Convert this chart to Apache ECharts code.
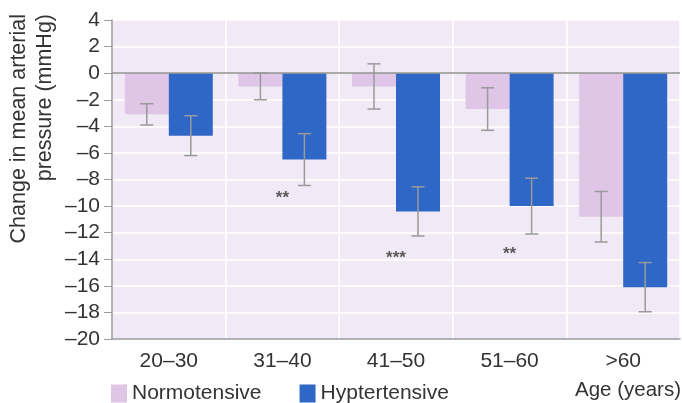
<!DOCTYPE html>
<html>
<head>
<meta charset="utf-8">
<script src="https://cdn.jsdelivr.net/npm/echarts@6/dist/echarts.min.js"></script>
<style>
  html, body { margin: 0; padding: 0; background: #ffffff; }
  #chart { width: 682px; height: 403px; }
</style>
</head>
<body>
<div id="chart"></div>
<script>
// Age groups and mean change in arterial pressure (mmHg) with error bars
const ageGroups = ['20–30', '31–40', '41–50', '51–60', '>60'];
const normotensive = [-3.1, -1.0, -1.0, -2.7, -10.8];
const normotensiveErr = [0.8, 1.0, 1.7, 1.6, 1.9];
const hypertensive = [-4.7, -6.5, -10.4, -10.0, -16.1];
const hypertensiveErr = [1.5, 1.95, 1.85, 2.1, 1.85];
// Significance markers: [group index, value where the stars sit, stars]
const significance = [[1, -9.4, '**'], [2, -13.9, '***'], [3, -13.6, '**']];

const FONT = '"Liberation Sans", Arial, Helvetica, sans-serif';
const TEXT = '#333333';
const BAR_W = 44;
const PINK = '#dfc5e6';
const BLUE = '#2f67c7';

const chart = echarts.init(document.getElementById('chart'), null, { renderer: 'canvas' });

// Error bar whiskers, shifted onto the matching bar of each pair
function errorBars(values, errs, side) {
  return {
    type: 'custom',
    z: 5,
    silent: true,
    data: values.map((v, i) => [i, v - errs[i], v + errs[i]]),
    renderItem: function (params, api) {
      const lo = api.coord([api.value(0), api.value(1)]);
      const hi = api.coord([api.value(0), api.value(2)]);
      const x = lo[0] + side * BAR_W / 2;
      const cap = 6.5;
      const style = { stroke: '#9a9a9a', lineWidth: 1.5 };
      return {
        type: 'group',
        children: [
          { type: 'line', shape: { x1: x, y1: lo[1], x2: x, y2: hi[1] }, style },
          { type: 'line', shape: { x1: x - cap, y1: lo[1], x2: x + cap, y2: lo[1] }, style },
          { type: 'line', shape: { x1: x - cap, y1: hi[1], x2: x + cap, y2: hi[1] }, style }
        ]
      };
    }
  };
}

const option = {
  animation: false,
  textStyle: { fontFamily: FONT },
  grid: {
    left: 112, right: 2, top: 20, bottom: 64,
    show: true, backgroundColor: '#f1eaf6', borderWidth: 0
  },
  legend: {
    data: ['Normotensive', 'Hyptertensive'],
    left: 106, top: 378,
    icon: 'rect', itemWidth: 16, itemHeight: 18, itemGap: 38,
    textStyle: { fontFamily: FONT, fontSize: 21, color: TEXT }
  },
  xAxis: {
    type: 'category',
    data: ageGroups,
    axisLine: { onZero: false, lineStyle: { color: '#9a9a9a', width: 1.5 } },
    axisTick: { show: false },
    axisLabel: { fontSize: 21, color: TEXT, margin: 12, fontFamily: FONT },
    splitLine: { show: true, lineStyle: { color: '#ffffff', width: 1.5 } }
  },
  yAxis: {
    type: 'value',
    min: -20, max: 4, interval: 2,
    axisLine: { show: true, lineStyle: { color: '#9a9a9a', width: 1.5 } },
    axisTick: { show: true, length: 8, lineStyle: { color: '#9a9a9a' } },
    axisLabel: {
      fontSize: 21, color: TEXT, margin: 12, fontFamily: FONT,
      formatter: v => String(v).replace('-', '–')
    },
    splitLine: { show: true, lineStyle: { color: '#ffffff', width: 1.5 } }
  },
  graphic: [
    {
      type: 'text', x: 32, y: 14, rotation: Math.PI / 2,
      style: {
        text: 'Change in mean arterial\npressure (mmHg)',
        align: 'right', verticalAlign: 'middle', lineHeight: 26,
        font: '21.5px ' + FONT, fill: TEXT
      }
    },
    {
      type: 'text', x: 681, y: 390,
      style: {
        text: 'Age (years)', align: 'right', verticalAlign: 'middle',
        font: '20.5px ' + FONT, fill: TEXT
      }
    }
  ],
  series: [
    {
      name: 'Normotensive', type: 'bar', data: normotensive,
      barWidth: BAR_W, barGap: '0%',
      itemStyle: { color: PINK },
      markLine: {
        silent: true, symbol: 'none', label: { show: false },
        lineStyle: { color: '#8f8f8f', width: 1.5, type: 'solid' },
        data: [{ yAxis: 0 }]
      }
    },
    {
      name: 'Hyptertensive', type: 'bar', data: hypertensive,
      barWidth: BAR_W,
      itemStyle: { color: BLUE }
    },
    errorBars(normotensive, normotensiveErr, -1),
    errorBars(hypertensive, hypertensiveErr, 1),
    {
      type: 'scatter', symbolSize: 0, silent: true, z: 6,
      data: significance.map(s => ({ value: [s[0], s[1]], stars: s[2] })),
      label: {
        show: true, position: 'inside',
        formatter: p => p.data.stars,
        fontSize: 17, fontWeight: 'bold', color: '#333333', fontFamily: FONT
      }
    }
  ]
};

chart.setOption(option);
</script>
</body>
</html>
